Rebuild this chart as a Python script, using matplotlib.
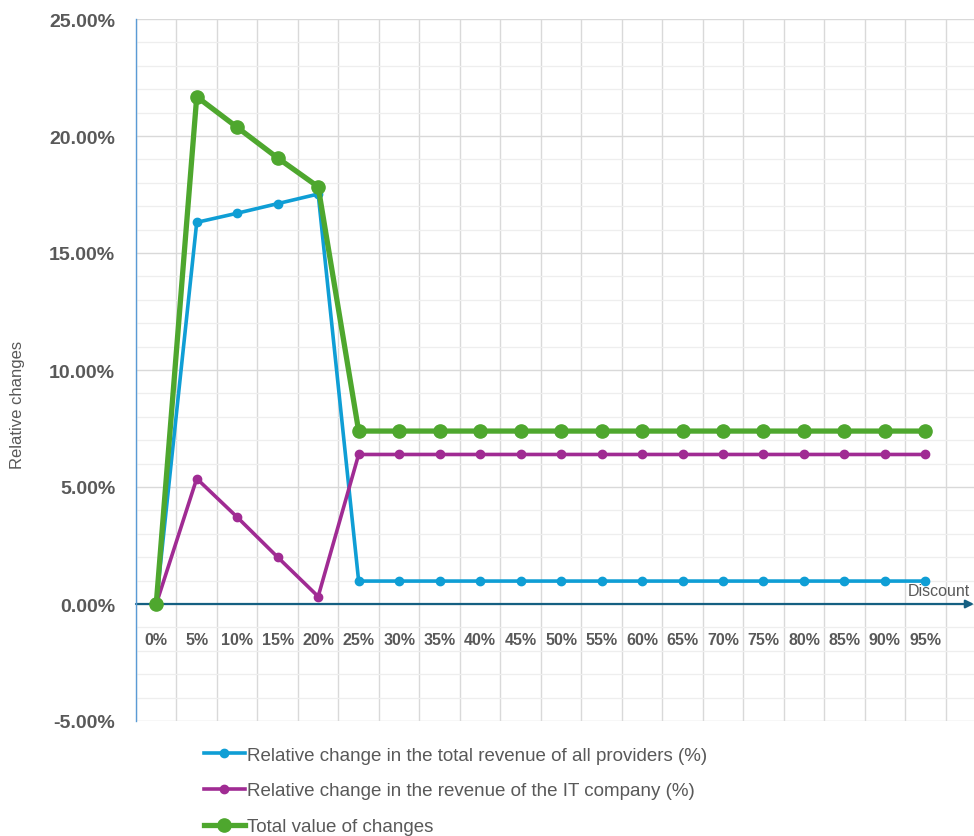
import matplotlib.pyplot as plt
import numpy as np
from matplotlib.ticker import FixedLocator, MultipleLocator, FuncFormatter
from matplotlib.transforms import blended_transform_factory

# Discount levels on the x axis
discounts = ["0%", "5%", "10%", "15%", "20%", "25%", "30%", "35%", "40%", "45%",
             "50%", "55%", "60%", "65%", "70%", "75%", "80%", "85%", "90%", "95%"]

# Relative changes, in percent
all_providers = [0.00, 16.31, 16.70, 17.11, 17.52, 0.98, 0.98, 0.98, 0.98, 0.98,
                 0.98, 0.98, 0.98, 0.98, 0.98, 0.98, 0.98, 0.98, 0.98, 0.98]
it_company = [0.00, 5.36, 3.71, 2.00, 0.32, 6.39, 6.39, 6.39, 6.39, 6.39,
              6.39, 6.39, 6.39, 6.39, 6.39, 6.39, 6.39, 6.39, 6.39, 6.39]
total_changes = [0.00, 21.68, 20.37, 19.06, 17.83, 7.39, 7.39, 7.39, 7.39, 7.39,
                 7.39, 7.39, 7.39, 7.39, 7.39, 7.39, 7.39, 7.39, 7.39, 7.39]

series_labels = ["Relative change in the total revenue of all providers (%)",
                 "Relative change in the revenue of the IT company (%)",
                 "Total value of changes"]

BLUE = "#0F9ED5"
PURPLE = "#A02B93"
GREEN = "#4EA72E"
AXIS_DARK = "#156082"
TEXT_GREY = "#595959"

plt.rcParams['font.family'] = ['Liberation Sans', 'DejaVu Sans']

fig = plt.figure(figsize=(9.74, 8.37), dpi=100)
ax = fig.add_axes([136 / 974, 1 - 722 / 837, (974 - 136) / 974, (722 - 20) / 837])

x = np.arange(len(discounts))
ax.plot(x, all_providers, color=BLUE, lw=2.6, marker="o", ms=6, zorder=3,
        label=series_labels[0])
ax.plot(x, it_company, color=PURPLE, lw=2.6, marker="o", ms=6, zorder=3,
        label=series_labels[1])
ax.plot(x, total_changes, color=GREEN, lw=3.8, marker="o", ms=9.5, zorder=4,
        label=series_labels[2])

ax.set_xlim(-0.5, 20.2)
ax.set_ylim(-5, 25)
ax.spines["bottom"].set_position(("data", 0))

# y axis: major every 5 %, minor every 1 %
ax.yaxis.set_major_locator(MultipleLocator(5))
ax.yaxis.set_minor_locator(MultipleLocator(1))
ax.yaxis.set_major_formatter(FuncFormatter(lambda v, p: f"{v:.2f}%"))
ax.tick_params(axis="y", which="both", length=0, pad=15,
               labelsize=14, labelcolor=TEXT_GREY)
for lbl in ax.get_yticklabels():
    lbl.set_fontweight("bold")

# x axis: categories centred between gridlines
ax.xaxis.set_major_locator(FixedLocator(x))
ax.xaxis.set_minor_locator(FixedLocator(np.arange(-0.5, 21, 1)))
ax.tick_params(axis="x", which="both", length=0, pad=20,
               labelsize=11.5, labelcolor=TEXT_GREY)
ax.set_xticklabels(discounts, fontweight="bold")

ax.grid(which="major", axis="y", color="#d9d9d9", lw=1.0, zorder=0)
ax.grid(which="minor", axis="y", color="#eeeeee", lw=0.9, zorder=0)
ax.grid(which="minor", axis="x", color="#d9d9d9", lw=1.0, zorder=0)
ax.set_axisbelow(True)

for side in ["top", "right", "bottom"]:
    ax.spines[side].set_visible(False)
ax.spines["left"].set_color("#5b9bd5")
ax.spines["left"].set_linewidth(1.0)

# Horizontal axis with arrow at the right end
trans = blended_transform_factory(ax.transAxes, ax.transData)
ax.annotate("", xy=(1.0, 0), xytext=(0.0, 0), xycoords=trans, textcoords=trans,
            arrowprops=dict(arrowstyle="-|>", color=AXIS_DARK, lw=1.6,
                            mutation_scale=12, shrinkA=0, shrinkB=0), zorder=2)
ax.text(0.995, 0.25, "Discount", transform=trans, ha="right", va="bottom",
        fontsize=11.5, color=TEXT_GREY)

fig.text(18 / 974, 1 - 405 / 837, "Relative changes", rotation=90,
         ha="center", va="center", fontsize=12, color=TEXT_GREY)

leg = fig.legend(loc="upper left", bbox_to_anchor=(196 / 974, 1 - 740 / 837),
                 frameon=False, fontsize=13.5, handlelength=2.2,
                 handletextpad=0.1, labelspacing=1.0, borderaxespad=0)
for t in leg.get_texts():
    t.set_color(TEXT_GREY)

fig.savefig("out.png", dpi=100)
